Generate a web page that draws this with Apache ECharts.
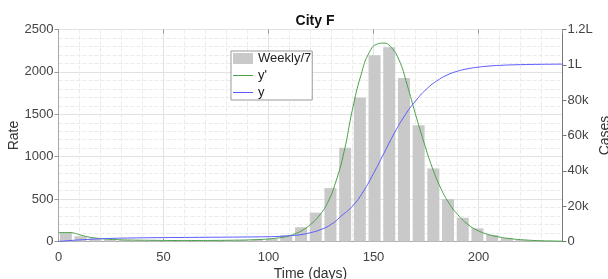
<!DOCTYPE html>
<html>
<head>
<meta charset="utf-8">
<script src="https://cdn.jsdelivr.net/npm/echarts@6/dist/echarts.min.js"></script>
<style>
  html, body { margin: 0; padding: 0; background: #fff; }
  #chart { width: 608px; height: 279px; }
</style>
</head>
<body>
<div id="chart"></div>
<script>
// weekly bars (value / 7), centred in the middle of each week
var weekMid = [3.5, 10.5, 17.5, 24.5, 31.5, 38.5, 45.5, 52.5, 59.5, 66.5, 73.5, 80.5,
  87.5, 94.5, 101.5, 108.5, 115.5, 122.5, 129.5, 136.5, 143.5, 150.5, 157.5, 164.5,
  171.5, 178.5, 185.5, 192.5, 199.5, 206.5, 213.5, 220.5, 227.5, 234.5];
var weeklyRate = [105, 62, 38, 24, 18, 15, 13, 12, 12, 13, 14, 16,
  18, 22, 32, 74, 168, 340, 630, 1105, 1698, 2195, 2290, 1928,
  1372, 860, 500, 280, 155, 78, 40, 20, 10, 5];

// fitted derivative y' (left axis)
var dDays = [0, 6, 8, 10, 14, 18, 22, 28, 35, 45, 55, 65, 75, 85, 92, 97, 100, 104, 108,
  112, 116, 120, 124, 128, 132, 136, 140, 144, 148, 152, 155, 158, 162, 166, 170, 174,
  178, 182, 186, 190, 195, 200, 205, 210, 215, 220, 225, 230, 235, 240];
var dRate = [105, 105, 95, 80, 55, 40, 30, 22, 17, 14, 12, 12, 13, 16, 20, 25, 30, 40, 55,
  85, 130, 200, 300, 450, 700, 1060, 1560, 1960, 2230, 2330, 2340, 2300, 2150, 1850, 1500, 1170,
  870, 630, 450, 320, 200, 125, 80, 52, 34, 22, 14, 9, 6, 4];

// cumulative y (right axis)
var cDays = [0, 5, 10, 15, 20, 25, 30, 40, 50, 60, 70, 80, 90, 100, 105, 110, 115, 120, 125,
  130, 135, 140, 145, 150, 155, 160, 165, 170, 175, 180, 185, 190, 195, 200, 205, 210,
  220, 230, 240];
var cCases = [0, 500, 900, 1250, 1550, 1750, 1900, 2080, 2200, 2300, 2380, 2460, 2560, 2720,
  2900, 3250, 3800, 5000, 6800, 9800, 14800, 20000, 28000, 38500, 50000, 61500, 71500, 79500,
  86000, 90800, 94200, 96400, 97800, 98700, 99300, 99700, 100100, 100300, 100400];

var rightTicks = ['0', '20k', '40k', '60k', '80k', '1L', '1.2L'];

function pairs(xs, ys) {
  return xs.map(function (x, i) { return [x, ys[i]]; });
}

var font = 'Liberation Sans, Arial, sans-serif';
var lineIcon = 'path://M0,0H20V1H0Z';
var myChart = echarts.init(document.getElementById('chart'));

var option = {
  animation: false,
  textStyle: { fontFamily: font },
  title: {
    text: 'City F',
    left: 310,
    textAlign: 'center',
    top: 9,
    textStyle: { fontSize: 14, fontWeight: 'bold', color: '#111', fontFamily: font }
  },
  grid: {
    left: 58.5, right: 45.5, top: 29.5, bottom: 37.5,
    containLabel: false, outerBoundsMode: 'none',
    show: true, borderColor: '#a8a8a8', borderWidth: 1
  },
  legend: {
    orient: 'vertical',
    left: 231, top: 51,
    itemWidth: 20, itemHeight: 11, itemGap: 4,
    padding: [1, 1, 1, 2],
    borderColor: '#999', borderWidth: 1, backgroundColor: '#fff',
    textStyle: { fontSize: 13, color: '#222', fontFamily: font },
    data: [
      { name: 'Weekly/7', icon: 'rect' },
      { name: "y'", icon: lineIcon },
      { name: 'y', icon: lineIcon }
    ]
  },
  xAxis: [{
    type: 'value', min: 0, max: 240, interval: 50,
    name: 'Time (days)', nameLocation: 'middle', nameGap: 26, nameMoveOverlap: false,
    nameTextStyle: { fontSize: 14, color: '#333', fontFamily: font },
    axisLine: { show: true, onZero: false, lineStyle: { color: '#a8a8a8' } },
    axisTick: { show: true, inside: true, length: 3, lineStyle: { color: '#999' } },
    axisLabel: { fontSize: 13, color: '#444', margin: 9, showMaxLabel: false, fontFamily: font,
      formatter: function (v) { return String(v); } },
    splitLine: { show: true, lineStyle: { color: '#e2e2e2' } },
    minorTick: { show: false, splitNumber: 5, length: 0 },
    minorSplitLine: { show: true, lineStyle: { color: '#ebebeb', type: 'dashed' } }
  }, {
    type: 'value', min: 0, max: 240, interval: 50, position: 'top',
    axisLine: { show: false, onZero: false },
    axisTick: { show: true, inside: true, length: 4, lineStyle: { color: '#999' } },
    axisLabel: { show: false },
    splitLine: { show: false }
  }],
  yAxis: [{
    type: 'value', min: 0, max: 2500, interval: 500,
    name: 'Rate', nameLocation: 'middle', nameGap: 37, nameRotate: 90, nameMoveOverlap: false,
    nameTextStyle: { fontSize: 14, color: '#333', fontFamily: font },
    axisLine: { show: true, onZero: false, lineStyle: { color: '#a8a8a8' } },
    axisTick: { show: true, length: 4, lineStyle: { color: '#999' } },
    axisLabel: { fontSize: 13, color: '#444', margin: 5, fontFamily: font,
      formatter: function (v) { return String(v); } },
    splitLine: { show: true, lineStyle: { color: '#e2e2e2' } },
    minorTick: { show: false, splitNumber: 5, length: 0 },
    minorSplitLine: { show: true, lineStyle: { color: '#ebebeb', type: 'dashed' } }
  }, {
    type: 'value', min: 0, max: 120000, interval: 20000, position: 'right',
    name: 'Cases', nameLocation: 'middle', nameGap: 36, nameRotate: 90, nameMoveOverlap: false,
    nameTextStyle: { fontSize: 14, color: '#333', fontFamily: font },
    axisLine: { show: true, onZero: false, lineStyle: { color: '#777' } },
    axisTick: { show: true, length: 4, lineStyle: { color: '#777' } },
    axisLabel: {
      fontSize: 13, color: '#444', margin: 5, fontFamily: font,
      formatter: function (v) { return rightTicks[Math.round(v / 20000)]; }
    },
    splitLine: { show: false }
  }],
  series: [{
    name: 'Weekly/7',
    type: 'bar',
    barWidth: 12,
    itemStyle: { color: '#c9c9c9' },
    data: pairs(weekMid, weeklyRate)
  }, {
    name: "y'",
    type: 'line',
    symbol: 'none',
    smooth: true,
    lineStyle: { color: '#49a049', width: 1 },
    itemStyle: { color: '#49a049' },
    data: pairs(dDays, dRate)
  }, {
    name: 'y',
    type: 'line',
    yAxisIndex: 1,
    symbol: 'none',
    smooth: true,
    lineStyle: { color: '#5b5bff', width: 1 },
    itemStyle: { color: '#5b5bff' },
    data: pairs(cDays, cCases)
  }]
};

myChart.setOption(option);
</script>
</body>
</html>
